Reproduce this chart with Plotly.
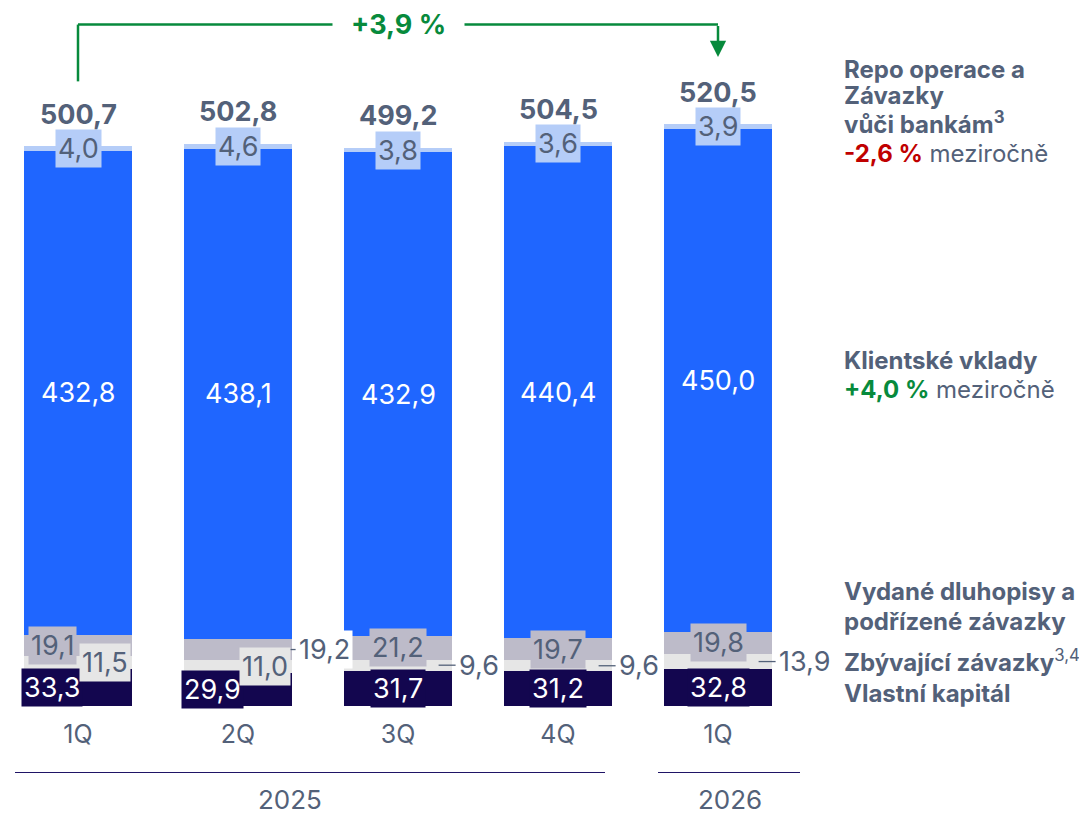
import plotly.graph_objects as go

# values in mld. Kč
quarters = ["1Q", "2Q", "3Q", "4Q", "1Q"]
years = ["2025", "2026"]
equity = [33.3, 29.9, 31.7, 31.2, 32.8]
other_liab = [11.5, 11.0, 9.6, 9.6, 13.9]
bonds = [19.1, 19.2, 21.2, 19.7, 19.8]
deposits = [432.8, 438.1, 432.9, 440.4, 450.0]
repo = [4.0, 4.6, 3.8, 3.6, 3.9]
totals = [500.7, 502.8, 499.2, 504.5, 520.5]
total_growth = "+3,9 %"
repo_yoy = "-2,6 %"
deposits_yoy = "+4,0 %"

NAVY = "#13064F"
LIGHT = "#E6E6E6"
GREYP = "#BDBBC9"
BLUE = "#1F66FF"
LBLUE = "#B5CDF8"
SLATE = "#536179"
GREEN = "#078A3C"
RED = "#C00000"
FONT = "Inter"

W, H = 1079, 815
PLOT_H = 706          # px from top to the bar baseline
PX_PER_UNIT = 1.118
BAR_W = 0.67
X0_PX, STEP_PX = 78, 160

series = [
    ("Vlastní kapitál", equity, NAVY, "white"),
    ("Zbývající závazky", other_liab, LIGHT, SLATE),
    ("Vydané dluhopisy", bonds, GREYP, SLATE),
    ("Klientské vklady", deposits, BLUE, "white"),
    ("Repo operace", repo, LBLUE, SLATE),
]
# where each segment label goes
placement = [
    ["left", "left", "center", "center", "center"],
    ["right", "right", "out", "out", "out"],
    ["left", "out", "center", "center", "center"],
    ["plain"] * 5,
    ["center"] * 5,
]

x = list(range(len(quarters)))
fig = go.Figure()
for name, vals, col, _ in series:
    fig.add_bar(x=x, y=vals, name=name, width=BAR_W, marker_color=col,
                marker_line_width=0, hoverinfo="skip")

def fmt(v):
    return f"{v:.1f}".replace(".", ",")

annotations = []
shapes = []
base = [0.0] * len(x)
for s, (name, vals, col, tcol) in enumerate(series):
    for i, v in enumerate(vals):
        mid = base[i] + v / 2
        mode = placement[s][i]
        lab = dict(x=i, y=mid, text=fmt(v), showarrow=False,
                   font=dict(family=FONT, size=27, color=tcol),
                   borderpad=2, yanchor="middle")
        if mode == "plain":
            pass
        elif mode == "out":
            lab.update(x=i + BAR_W / 2, xanchor="left", xshift=4,
                       bgcolor="white", font=dict(family=FONT, size=27, color=SLATE))
            shapes.append(dict(type="line", xref="x", yref="y", xsizemode="pixel",
                               xanchor=i + BAR_W / 2, x0=-13, x1=4, y0=mid, y1=mid,
                               line=dict(color=SLATE, width=1.3)))
        else:
            lab["bgcolor"] = col
            if mode == "left":
                lab["xshift"] = -26
            elif mode == "right":
                lab["xshift"] = 27
        annotations.append(lab)
        base[i] += v

for i, t in enumerate(totals):
    annotations.append(dict(x=i, y=t, yshift=32, text=f"<b>{fmt(t)}</b>", showarrow=False,
                            font=dict(family=FONT, size=27, color=SLATE)))

# growth bracket from first to last bar
bracket_y = max(totals) + 89
shapes += [
    dict(type="line", xref="x", yref="y", x0=0, x1=0, y0=totals[0] + 58, y1=bracket_y,
         line=dict(color=GREEN, width=2.5)),
    dict(type="line", xref="x", yref="y", x0=0, x1=4, y0=bracket_y, y1=bracket_y,
         line=dict(color=GREEN, width=2.5)),
]
annotations.append(dict(x=4, y=totals[4] + 60, ax=4, ay=bracket_y, axref="x", ayref="y",
                        xref="x", yref="y", showarrow=True, arrowhead=2, arrowsize=1.3,
                        arrowwidth=2.5, arrowcolor=GREEN, text=""))
annotations.append(dict(x=2, y=bracket_y, text=f"<b>{total_growth}</b>", showarrow=False,
                        bgcolor="white", borderpad=18,
                        font=dict(family=FONT, size=27, color=GREEN)))

def py(px):
    return (PLOT_H - px) / PLOT_H

def dx(px):
    return (px - X0_PX) / STEP_PX

# year groups
for txt, xa, xb, xc in [(years[0], 15, 605, 290), (years[1], 658, 800, 730)]:
    shapes.append(dict(type="line", xref="x", yref="paper", x0=dx(xa), x1=dx(xb),
                       y0=py(772.5), y1=py(772.5), line=dict(color="#1F1466", width=1)))
    annotations.append(dict(x=dx(xc), y=py(799), xref="x", yref="paper", text=txt,
                            showarrow=False, yanchor="middle",
                            font=dict(family=FONT, size=26, color=SLATE)))

# right-hand legend texts, one annotation per line
RX = 842 / W
right = [
    ("<b>Repo operace a</b>", 69),
    ("<b>Závazky</b>", 96),
    ("<b>vůči bankám<sup>3</sup></b>", 123),
    (f"<b><span style='color:{RED}'>{repo_yoy}</span></b> meziročně", 154),
    ("<b>Klientské vklady</b>", 360),
    (f"<b><span style='color:{GREEN}'>{deposits_yoy}</span></b> meziročně", 389),
    ("<b>Vydané dluhopisy a</b>", 591),
    ("<b>podřízené závazky</b>", 621),
    ("<b>Zbývající závazky</b><sup>3,4</sup>", 661),
    ("<b>Vlastní kapitál</b>", 693),
]
for txt, ypx in right:
    annotations.append(dict(x=RX, y=py(ypx), xref="paper", yref="paper", text=txt,
                            showarrow=False, xanchor="left", yanchor="middle", align="left",
                            font=dict(family=FONT, size=24, color=SLATE)))

fig.update_layout(
    barmode="stack",
    width=W, height=H,
    margin=dict(l=0, r=0, t=0, b=H - PLOT_H),
    plot_bgcolor="white", paper_bgcolor="white",
    showlegend=False,
    annotations=annotations,
    shapes=shapes,
)
fig.update_xaxes(range=[-X0_PX / STEP_PX, (W - X0_PX) / STEP_PX], tickvals=x, ticktext=quarters,
                 showgrid=False, zeroline=False, showline=False, ticks="",
                 ticklabelstandoff=11, tickfont=dict(family=FONT, size=25, color=SLATE))
fig.update_yaxes(range=[0, PLOT_H / PX_PER_UNIT], visible=False)

fig.write_html("out.html", config={"displayModeBar": False},
               post_script="document.body.style.margin='0';")
